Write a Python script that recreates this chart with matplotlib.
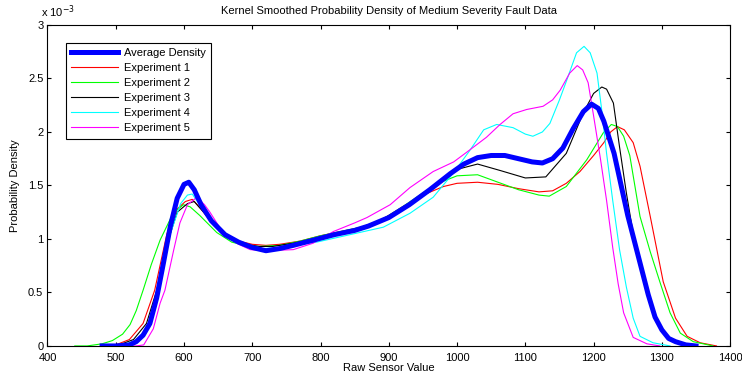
import numpy as np
import matplotlib
matplotlib.use("Agg")
import matplotlib.pyplot as plt
from matplotlib.ticker import FuncFormatter

plt.rcParams['font.family'] = ['Liberation Sans', 'DejaVu Sans']

# densities are given in units of 1e-3
avg_x = [480, 500, 520, 530, 540, 550, 560, 570, 580, 590, 600, 607, 615, 625, 640, 660, 680, 700,
         720, 740, 760, 790, 820, 850, 870, 900, 930, 960, 990, 1010, 1030, 1050, 1070, 1090, 1110,
         1125, 1140, 1155, 1170, 1185, 1197, 1207, 1215, 1230, 1250, 1265, 1280, 1290, 1300, 1310,
         1320, 1335, 1350]
avg_y = [0, 0, 0.01, 0.04, 0.10, 0.21, 0.45, 0.78, 1.12, 1.38, 1.51, 1.53, 1.46, 1.32, 1.17, 1.04,
         0.97, 0.92, 0.89, 0.91, 0.94, 0.99, 1.04, 1.08, 1.12, 1.20, 1.32, 1.46, 1.61, 1.70, 1.76,
         1.78, 1.78, 1.75, 1.72, 1.71, 1.75, 1.85, 2.03, 2.19, 2.26, 2.22, 2.10, 1.80, 1.22, 0.85,
         0.48, 0.27, 0.15, 0.07, 0.04, 0.01, 0]

exp1_x = [480, 500, 520, 540, 557, 575, 590, 602, 612, 625, 640, 660, 680, 700, 720, 740, 770, 800,
          830, 860, 890, 920, 950, 980, 1000, 1030, 1060, 1090, 1120, 1140, 1160, 1180, 1200, 1215,
          1225, 1235, 1245, 1258, 1268, 1283, 1302, 1320, 1337, 1356, 1380]
exp1_y = [0, 0.01, 0.06, 0.21, 0.52, 1.05, 1.28, 1.35, 1.37, 1.28, 1.16, 1.05, 0.98, 0.95, 0.94,
          0.95, 0.98, 1.03, 1.07, 1.11, 1.18, 1.30, 1.41, 1.49, 1.52, 1.53, 1.51, 1.47, 1.44, 1.45,
          1.52, 1.63, 1.78, 1.90, 2.00, 2.05, 2.02, 1.90, 1.68, 1.21, 0.60, 0.26, 0.09, 0.03, 0]

exp2_x = [440, 458, 480, 495, 510, 521, 530, 540, 552, 565, 584, 599, 609, 623, 648, 670, 690, 710,
          740, 770, 800, 830, 860, 890, 920, 950, 980, 1000, 1030, 1060, 1090, 1120, 1135, 1160,
          1190, 1214, 1226, 1235, 1244, 1253, 1268, 1283, 1297, 1312, 1327, 1346, 1375]
exp2_y = [0, 0, 0.02, 0.05, 0.11, 0.20, 0.33, 0.52, 0.76, 0.99, 1.24, 1.32, 1.30, 1.22, 1.06, 0.97,
          0.94, 0.93, 0.94, 0.98, 1.03, 1.07, 1.11, 1.18, 1.30, 1.43, 1.54, 1.59, 1.60, 1.53, 1.46,
          1.41, 1.40, 1.49, 1.74, 1.99, 2.07, 2.05, 1.96, 1.78, 1.21, 0.88, 0.60, 0.31, 0.12, 0.04, 0]

exp3_x = [480, 505, 526, 545, 560, 575, 590, 605, 615, 630, 650, 670, 690, 710, 730, 760, 790, 820,
          850, 880, 910, 940, 970, 1000, 1030, 1063, 1100, 1130, 1160, 1185, 1200, 1212, 1219, 1229,
          1238, 1248, 1258, 1272, 1287, 1307, 1337]
exp3_y = [0, 0.01, 0.06, 0.21, 0.52, 0.95, 1.25, 1.33, 1.35, 1.24, 1.09, 1.00, 0.95, 0.93, 0.93,
          0.96, 1.00, 1.05, 1.09, 1.15, 1.25, 1.37, 1.51, 1.65, 1.70, 1.64, 1.57, 1.58, 1.80, 2.18,
          2.36, 2.42, 2.40, 2.27, 1.86, 1.43, 1.05, 0.65, 0.32, 0.08, 0]

exp4_x = [490, 510, 530, 550, 565, 580, 595, 605, 612, 625, 645, 665, 690, 715, 740, 770, 794, 843,
          892, 931, 965, 995, 1019, 1039, 1058, 1082, 1100, 1111, 1125, 1136, 1150, 1161, 1175, 1186,
          1195, 1205, 1212, 1219, 1228, 1238, 1248, 1258, 1268, 1287, 1312]
exp4_y = [0, 0.01, 0.05, 0.20, 0.60, 1.05, 1.33, 1.41, 1.42, 1.30, 1.13, 1.02, 0.95, 0.91, 0.92,
          0.95, 0.97, 1.04, 1.11, 1.24, 1.39, 1.62, 1.83, 2.02, 2.07, 2.04, 1.98, 1.96, 2.00, 2.08,
          2.30, 2.49, 2.74, 2.80, 2.74, 2.55, 2.20, 1.80, 1.36, 0.90, 0.55, 0.26, 0.09, 0.03, 0]

exp5_x = [500, 530, 541, 555, 565, 572, 585, 594, 605, 619, 630, 638, 657, 680, 697, 720, 760, 789,
          819, 850, 868, 902, 931, 965, 995, 1014, 1043, 1063, 1082, 1102, 1126, 1140, 1151, 1165,
          1176, 1184, 1192, 1200, 1210, 1219, 1228, 1236, 1244, 1258, 1278, 1297]
exp5_y = [0, 0, 0.01, 0.16, 0.40, 0.52, 0.90, 1.15, 1.32, 1.39, 1.32, 1.25, 1.06, 0.95, 0.90, 0.89,
          0.90, 0.96, 1.07, 1.15, 1.20, 1.32, 1.48, 1.63, 1.72, 1.81, 1.95, 2.07, 2.17, 2.21, 2.24,
          2.30, 2.39, 2.55, 2.62, 2.58, 2.46, 2.15, 1.75, 1.36, 0.92, 0.58, 0.31, 0.08, 0.02, 0]

series = [
    ("Experiment 1", exp1_x, exp1_y, "#ff0000"),
    ("Experiment 2", exp2_x, exp2_y, "#00ff00"),
    ("Experiment 3", exp3_x, exp3_y, "#000000"),
    ("Experiment 4", exp4_x, exp4_y, "#00ffff"),
    ("Experiment 5", exp5_x, exp5_y, "#ff00ff"),
]

fig = plt.figure(figsize=(7.42, 3.81), dpi=100)
ax = fig.add_axes([0.064, 0.092, 0.92, 0.8425])

handles = []
h_avg, = ax.plot(avg_x, np.array(avg_y) * 1e-3, color="#0000ff", lw=3.6, zorder=5,
                 label="Average Density")
handles.append(h_avg)
for name, xs, ys, col in series:
    h, = ax.plot(xs, np.array(ys) * 1e-3, color=col, lw=0.8, label=name)
    handles.append(h)

ax.set_xlim(400, 1400)
ax.set_ylim(0, 3e-3)
ax.set_xticks(np.arange(400, 1401, 100))
ax.set_yticks(np.arange(0, 3.01e-3, 0.5e-3))
ax.yaxis.set_major_formatter(FuncFormatter(lambda v, p: "%g" % round(v * 1e3, 2)))
ax.tick_params(direction="in", length=3, width=0.8, labelsize=8, top=True, right=True, pad=3)
ax.tick_params(axis="x", pad=5)
for s in ax.spines.values():
    s.set_linewidth(0.8)

ax.text(-0.01, 1.015, r"x 10$^{-3}$", transform=ax.transAxes, fontsize=8, ha="left", va="bottom")
ax.set_title("Kernel Smoothed Probability Density of Medium Severity Fault Data", fontsize=8, pad=8)
ax.set_xlabel("Raw Sensor Value", fontsize=8, labelpad=0)
ax.set_ylabel("Probability Density", fontsize=8, labelpad=6)

leg = ax.legend(handles=handles, loc="upper left", bbox_to_anchor=(0.027, 0.945), fontsize=8,
                fancybox=False, framealpha=1, edgecolor="black", handlelength=4.2,
                borderaxespad=0, labelspacing=0.45, handletextpad=0.5, borderpad=0.5)
leg.get_frame().set_linewidth(0.8)

fig.savefig("out.png", dpi=100)
